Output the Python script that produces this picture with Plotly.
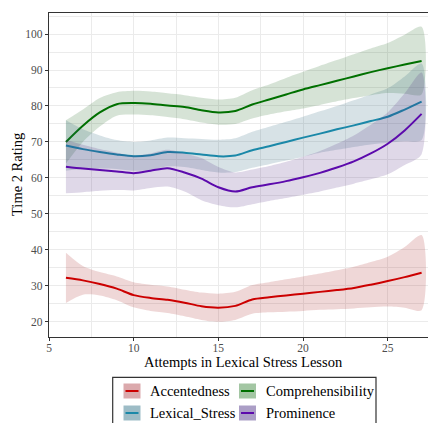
import plotly.graph_objects as go

# page has an 8px body margin, so the figure is drawn 8px smaller and all
# pixel positions below are page positions minus that offset
OFF = 8
W, H = 436 - OFF, 423 - OFF
L, R, T, B = 49 - OFF, 436 - OFF, 13 - OFF, 337 - OFF  # plot area in figure pixels

attempts = [6, 7, 8, 9, 10, 11, 12, 13, 14, 15, 16, 17, 18, 19, 20, 21, 22, 23, 24, 25, 26, 27]

accent_mean = [32.2, 31.5, 30.5, 29.2, 27.4, 26.6, 26.1, 25.3, 24.3, 23.9, 24.4, 26.2, 26.8, 27.3, 27.8, 28.3, 28.8, 29.4, 30.3, 31.3, 32.4, 33.6]
accent_hi = [39.2, 35.5, 33.8, 32.6, 31.0, 30.3, 29.8, 28.9, 28.1, 27.8, 28.3, 30.2, 31.0, 31.8, 32.6, 33.4, 34.3, 35.3, 36.6, 38.1, 40.8, 44.1]
accent_lo = [25.2, 27.5, 27.3, 26.0, 24.0, 23.0, 22.4, 21.5, 20.5, 20.0, 20.5, 22.2, 22.6, 22.8, 23.0, 23.3, 23.5, 23.7, 24.0, 24.2, 23.9, 23.2]

compr_mean = [70.0, 74.5, 78.2, 80.5, 80.8, 80.6, 80.1, 79.7, 78.8, 78.2, 78.6, 80.4, 81.8, 83.2, 84.6, 85.8, 87.0, 88.2, 89.4, 90.5, 91.5, 92.5]
compr_hi = [76.0, 79.0, 82.2, 83.8, 84.2, 84.0, 83.5, 83.0, 82.3, 81.8, 82.3, 84.4, 86.0, 87.8, 89.5, 91.2, 92.8, 94.4, 96.0, 97.5, 99.8, 102.0]
compr_lo = [64.0, 70.0, 74.3, 77.3, 77.6, 77.4, 76.9, 76.3, 75.4, 74.8, 75.0, 76.5, 77.6, 78.5, 79.3, 80.3, 81.3, 82.2, 83.0, 83.6, 83.4, 83.2]

lex_mean = [69.0, 68.0, 67.2, 66.5, 66.0, 66.3, 67.2, 67.0, 66.5, 66.0, 66.2, 67.7, 68.8, 70.0, 71.2, 72.3, 73.5, 74.6, 75.8, 77.0, 79.0, 81.2]
lex_hi = [76.0, 73.5, 71.8, 70.5, 70.0, 70.4, 71.2, 71.0, 70.8, 70.6, 71.0, 72.8, 74.2, 75.6, 77.0, 78.5, 80.0, 81.6, 83.2, 84.9, 88.2, 91.8]
lex_lo = [62.0, 62.5, 62.6, 62.5, 62.0, 62.2, 63.2, 63.0, 62.2, 61.5, 61.6, 62.8, 63.8, 64.8, 65.9, 67.0, 67.8, 68.6, 69.3, 69.8, 70.2, 70.5]

prom_mean = [63.1, 62.6, 62.2, 61.8, 61.3, 62.0, 62.7, 61.5, 59.8, 57.4, 56.2, 57.4, 58.2, 59.1, 60.2, 61.4, 62.9, 64.6, 66.8, 69.5, 73.2, 77.8]
prom_hi = [70.5, 69.2, 68.0, 67.0, 66.2, 66.8, 67.8, 66.8, 65.5, 63.0, 61.5, 62.3, 63.3, 64.5, 65.9, 67.5, 69.5, 71.8, 74.8, 78.2, 83.5, 89.3]
prom_lo = [55.7, 56.0, 56.4, 56.6, 56.5, 57.2, 57.6, 56.2, 53.8, 52.4, 51.8, 52.7, 53.6, 54.4, 55.3, 56.2, 57.3, 58.4, 59.6, 61.0, 63.6, 66.6]

series_names = ["Accentedness", "Comprehensibility", "Lexical_Stress", "Prominence"]
line_colors = ["#cc0000", "#007000", "#1a88a8", "#5c0aac"]
band_colors = ["rgba(170,45,45,0.19)", "rgba(30,100,30,0.18)", "rgba(40,100,120,0.19)", "rgba(80,40,130,0.18)"]
key_colors = ["#dba9ac", "#a3c6a3", "#9dbcc6", "#ab9ec6"]

means = [accent_mean, compr_mean, lex_mean, prom_mean]
his = [accent_hi, compr_hi, lex_hi, prom_hi]
los = [accent_lo, compr_lo, lex_lo, prom_lo]

x_ticks = [5, 10, 15, 20, 25]
y_ticks = [20, 30, 40, 50, 60, 70, 80, 90, 100]

FONT = "Liberation Serif"

fig = go.Figure()
for name, m, hi, lo, lc, bc in zip(series_names, means, his, los, line_colors, band_colors):
    fig.add_trace(go.Scatter(
        x=attempts + attempts[::-1], y=hi + lo[::-1], fill="toself", fillcolor=bc,
        line=dict(width=0, shape="spline", smoothing=0.8), mode="lines",
        hoverinfo="skip", showlegend=False))
    fig.add_trace(go.Scatter(
        x=attempts, y=m, mode="lines", name=name,
        line=dict(color=lc, width=2, shape="spline", smoothing=0.8), showlegend=False))

grid = "#ebebeb"
fig.update_xaxes(
    range=[5, 27.85], tickvals=x_ticks, ticktext=[str(v) for v in x_ticks],
    showgrid=True, gridcolor=grid, gridwidth=1,
    minor=dict(dtick=2.5, tick0=5, showgrid=True, gridcolor=grid, gridwidth=0.6),
    showline=True, linecolor="#333333", linewidth=1.3, mirror=True,
    ticks="outside", ticklen=3, tickcolor="#333333", tickwidth=1,
    ticklabelstandoff=-3,
    tickfont=dict(family=FONT, size=11.5, color="#4d4d4d"),
    automargin=False, zeroline=False)
fig.update_yaxes(
    range=[15.75, 105.85], tickvals=y_ticks, ticktext=[str(v) for v in y_ticks],
    showgrid=True, gridcolor=grid, gridwidth=1,
    minor=dict(dtick=5, tick0=15, showgrid=True, gridcolor=grid, gridwidth=0.6),
    showline=True, linecolor="#333333", linewidth=1.3, mirror=False,
    ticks="outside", ticklen=3, tickcolor="#333333", tickwidth=1,
    tickfont=dict(family=FONT, size=11.5, color="#4d4d4d"),
    automargin=False, zeroline=False)


def px_x(p):
    # p is a page pixel position
    return (p - OFF - L) / (R - L)


def px_y(p):
    return (B - (p - OFF)) / (B - T)


shapes = []
annotations = []
# axis titles
annotations.append(dict(xref="paper", yref="paper", x=px_x(243), y=px_y(362),
                        text="Attempts in Lexical Stress Lesson", showarrow=False,
                        xanchor="center", yanchor="middle",
                        font=dict(family=FONT, size=14.5, color="black")))
annotations.append(dict(xref="paper", yref="paper", x=px_x(17), y=px_y(175),
                        text="Time 2 Rating", showarrow=False, textangle=-90,
                        xanchor="center", yanchor="middle",
                        font=dict(family=FONT, size=14.5, color="black")))
# legend box
shapes.append(dict(type="rect", xref="paper", yref="paper",
                   x0=px_x(112.7), x1=px_x(376), y0=px_y(426), y1=px_y(377.3),
                   line=dict(color="#333333", width=1.2), fillcolor="white"))
key_pos = [(123.5, 391), (239, 391), (123.5, 413), (239, 413)]
for (kx, ky), name, lc, kc in zip(key_pos, series_names, line_colors, key_colors):
    shapes.append(dict(type="rect", xref="paper", yref="paper",
                       x0=px_x(kx), x1=px_x(kx + 17), y0=px_y(ky + 7.5), y1=px_y(ky - 7.5),
                       line=dict(width=0), fillcolor=kc))
    shapes.append(dict(type="line", xref="paper", yref="paper",
                       x0=px_x(kx + 2), x1=px_x(kx + 15), y0=px_y(ky), y1=px_y(ky),
                       line=dict(color=lc, width=2)))
    annotations.append(dict(xref="paper", yref="paper", x=px_x(kx + 24.5), y=px_y(ky),
                            text=name, showarrow=False, xanchor="left", yanchor="middle",
                            font=dict(family=FONT, size=14.5, color="black")))

fig.update_layout(
    width=W, height=H,
    margin=dict(l=L, r=W - R, t=T, b=H - B, autoexpand=False),
    plot_bgcolor="white", paper_bgcolor="white",
    shapes=shapes, annotations=annotations,
    showlegend=False,
)

fig.write_html("out.html")
